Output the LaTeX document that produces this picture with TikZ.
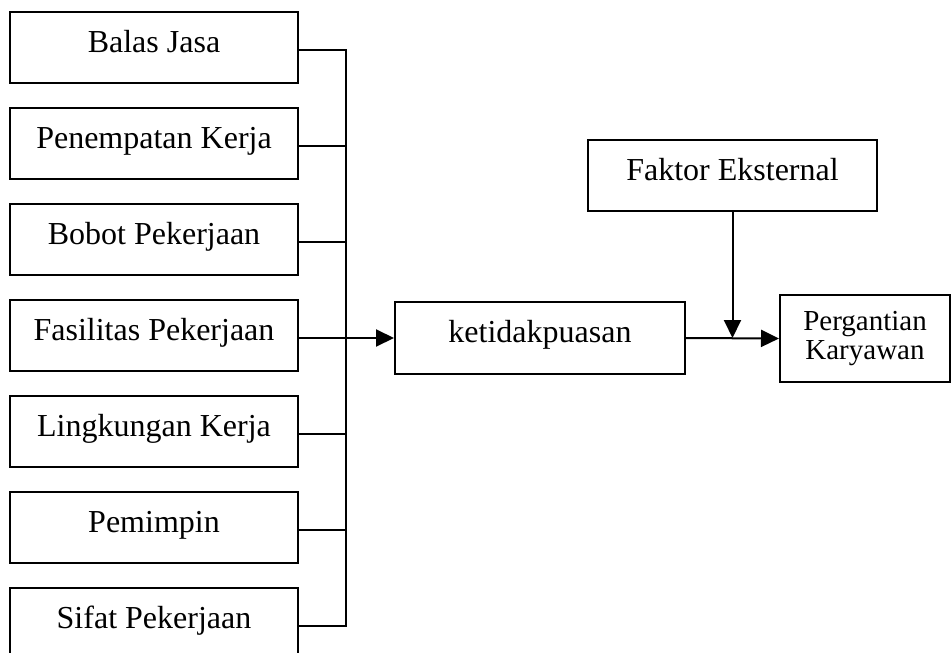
\documentclass[tikz,border=0pt]{standalone}
\usepackage{fontspec}
\setmainfont{Liberation Serif}
\usetikzlibrary{arrows.meta}

\tikzset{
  line/.style={line width=2pt},
  arrowline/.style={line, -{Triangle[length=18pt,width=17pt]}},
  factor/.style={draw, line width=2pt, inner sep=0pt,
    minimum width=288pt, text height=40pt, text depth=31pt,
    font=\fontsize{32}{36}\selectfont},
  result/.style={draw, line width=2pt, inner sep=0pt, align=center,
    minimum width=170pt, minimum height=87pt,
    font=\fontsize{29}{29}\selectfont},
}

\begin{document}
\begin{tikzpicture}[x=1pt, y=-1pt]
  \clip (0,0) rectangle (951,653);

  % factors on the left
  \node[factor] (b1) at (154,47.5)  {Balas Jasa};
  \node[factor] (b2) at (154,143.5) {Penempatan Kerja};
  \node[factor] (b3) at (154,239.5) {Bobot Pekerjaan};
  \node[factor] (b4) at (154,335.5) {Fasilitas Pekerjaan};
  \node[factor] (b5) at (154,431.5) {Lingkungan Kerja};
  \node[factor] (b6) at (154,527.5) {Pemimpin};
  \node[factor] (b7) at (154,623.5) {Sifat Pekerjaan};

  % middle and right
  \node[factor, minimum width=290pt, text depth=32pt] (k) at (540,338) {ketidakpuasan};
  \node[factor, minimum width=289pt] (f) at (732.5,175.5) {Faktor Eksternal};
  \node[result] (p) at (865,338.5) {Pergantian\\Karyawan};

  % collecting bus
  \coordinate (top) at (346,50);
  \coordinate (bot) at (346,626);
  \draw[line] ([yshift=-2.5pt]b1.east) -- (top) -- (bot) -- ([yshift=-2.5pt]b7.east);
  \foreach \b in {b2,b3,b5,b6}
    \draw[line] ([yshift=-2.5pt]\b.east) -- ([yshift=-2.5pt]\b.east -| top);

  % arrows
  \draw[arrowline] ([yshift=-2.5pt]b4.east) -- (k.west);
  \draw[arrowline] (k.east) -- (p.west);
  \coordinate (j) at (f.south |- k.east);
  \draw[arrowline] (f.south) -- (j);
\end{tikzpicture}
\end{document}
